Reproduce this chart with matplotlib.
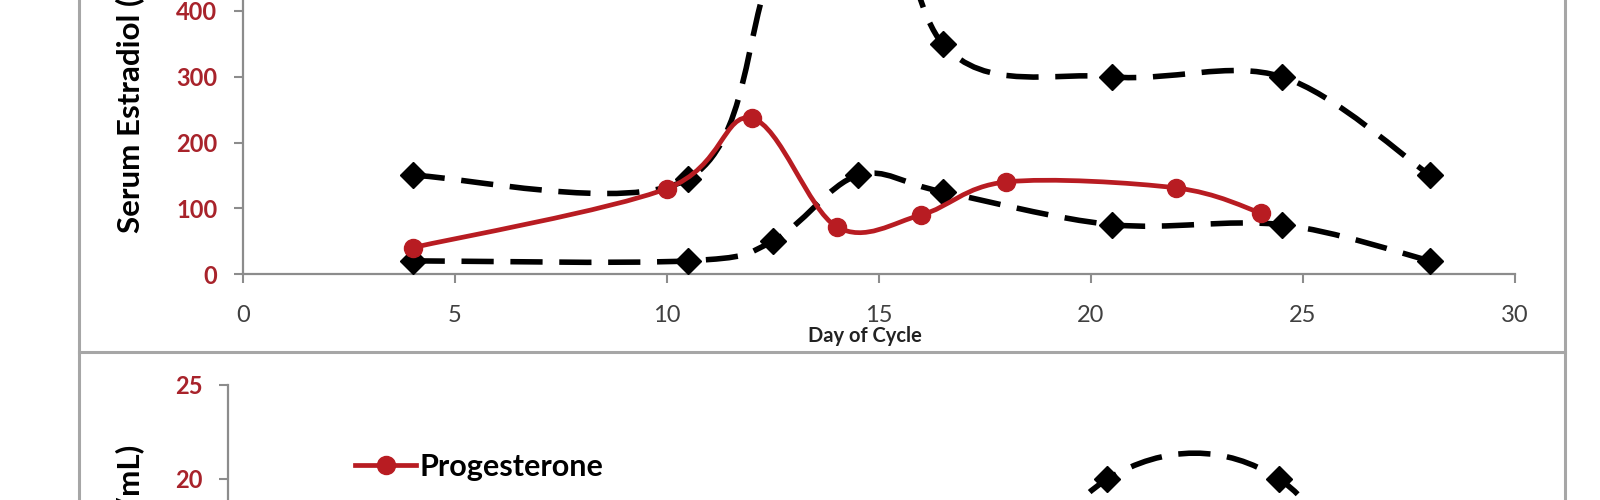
import numpy as np
import matplotlib
matplotlib.use("Agg")
import matplotlib.pyplot as plt
from matplotlib.path import Path
from matplotlib.patches import PathPatch
from matplotlib.lines import Line2D

plt.rcParams['font.family'] = ['Lato', 'DejaVu Sans']

# estradiol panel
est_days = [4, 10, 12, 14, 16, 18, 22, 24]
est_vals = [40, 130, 237, 72, 90, 140, 131, 93]
range_days = [4, 10.5, 12.5, 14.5, 16.5, 20.5, 24.5, 28]
est_low = [20, 20, 50, 150, 125, 75, 75, 20]
est_high = [150, 145, 470, 750, 350, 300, 300, 150]

# progesterone panel (only the top of it is in view)
prog_days = [4, 10, 12, 14, 16, 18, 22, 24]
prog_vals = [0.5, 0.8, 1.5, 3, 6, 10, 12, 8]
prog_high = [1.5, 1.5, 2, 5, 9, 20, 20, 9]

x_ticks = [0, 5, 10, 15, 20, 25, 30]
est_ticks = [0, 100, 200, 300, 400]
prog_ticks = [20, 25]

RED = '#b81c22'
TICKRED = '#a8232b'
GRAY = '#8c8c8c'
FRAME = '#a6a6a6'
W, H = 1600, 500


def smooth(x, y):
    # excel-like smoothed line: cubic bezier through the points
    p = np.column_stack([x, y]).astype(float)
    n = len(p)
    verts = [p[0]]
    codes = [Path.MOVETO]
    for i in range(n - 1):
        p0 = p[max(i - 1, 0)]
        p3 = p[min(i + 2, n - 1)]
        c1 = p[i] + (p[i + 1] - p0) / 6
        c2 = p[i + 1] - (p3 - p[i]) / 6
        verts += [c1, c2, p[i + 1]]
        codes += [Path.CURVE4] * 3
    return Path(verts, codes)


def dashed(ax, x, y):
    ax.add_patch(PathPatch(smooth(x, y), fill=False, edgecolor='black', lw=4,
                           linestyle=(0, (5.8, 3.0)), capstyle='butt', zorder=3))
    ax.plot(x, y, ls='none', marker='D', ms=13.5, color='black', zorder=4)


def red_line(ax, x, y):
    ax.add_patch(PathPatch(smooth(x, y), fill=False, edgecolor=RED, lw=3.4, zorder=5))
    ax.plot(x, y, ls='none', marker='o', ms=13, color=RED, zorder=6)


def style(ax, yticks):
    for s in ['top', 'right']:
        ax.spines[s].set_visible(False)
    for s in ['left', 'bottom']:
        ax.spines[s].set_color(GRAY)
        ax.spines[s].set_linewidth(1.6)
    ax.set_xlim(0, 30)
    ax.set_xticks(x_ticks)
    ax.set_yticks(yticks)
    ax.tick_params(axis='both', direction='out', length=6.5, width=1.5, color=GRAY)
    ax.tick_params(axis='x', labelsize=17, labelcolor='#404040', pad=16)
    ax.tick_params(axis='y', labelsize=17, labelcolor=TICKRED, pad=12)
    for lab in ax.get_yticklabels():
        lab.set_fontweight('bold')


fig = plt.figure(figsize=(16, 5), dpi=100)

# top axes: 0 at y=274px, 400 at y=11px
sc1 = (274 - 11) / 400
ax1 = fig.add_axes([243 / W, (H - 274) / H, (1515 - 243) / W, 800 * sc1 / H])
style(ax1, est_ticks)
ax1.set_ylim(0, 800)
dashed(ax1, range_days, est_low)
dashed(ax1, range_days, est_high)
red_line(ax1, est_days, est_vals)

# bottom axes: 25 at y=385px, 20 at y=479px
sc2 = (479 - 385) / 5
ax2 = fig.add_axes([228 / W, (H - 385) / H - 25 * sc2 / H, (1515 - 228) / W, 25 * sc2 / H])
style(ax2, prog_ticks)
ax2.set_ylim(0, 25)
ax2.tick_params(axis='x', labelbottom=False)
dashed(ax2, range_days, prog_high)
red_line(ax2, prog_days, prog_vals)

# chart area frames
fig.add_artist(Line2D([79 / W, 79 / W], [0, 1], color=FRAME, lw=2.2))
fig.add_artist(Line2D([1565 / W, 1565 / W], [0, 1], color=FRAME, lw=2.2))
fig.add_artist(Line2D([79 / W, 1565 / W], [(H - 352) / H] * 2, color=FRAME, lw=2.2))

fig.text(865 / W, (H - 336) / H, 'Day of Cycle', ha='center', va='center',
         fontsize=14.5, fontweight='bold', color='#222222')
fig.text(130 / W, (H - 233) / H, 'Serum Estradiol (pg/mL)', rotation=90,
         ha='center', va='bottom', fontsize=22.5, fontweight='bold')
fig.text(130 / W, (H - 445) / H, 'Serum Progesterone (ng/mL)', rotation=90,
         ha='center', va='top', fontsize=22.5, fontweight='bold')

# legend of the lower panel
handle = Line2D([], [], color=RED, lw=3.4, marker='o', ms=13)
fig.legend([handle], ['Progesterone'], loc='center left',
           bbox_to_anchor=(343 / W, (H - 467) / H), frameon=False,
           handlelength=2.0, handletextpad=0.1, borderaxespad=0,
           prop={'size': 22, 'weight': 'bold'})

fig.savefig('out.png', dpi=100, facecolor='white')
